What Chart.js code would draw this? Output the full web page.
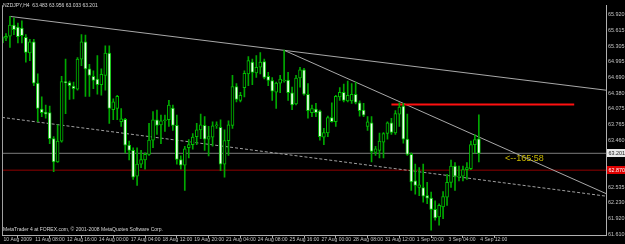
<!DOCTYPE html>
<html><head><meta charset="utf-8">
<script src="https://cdn.jsdelivr.net/npm/chart.js@4.4.0/dist/chart.umd.min.js"></script>
<style>html,body{margin:0;padding:0;background:#000;overflow:hidden}#wrap{width:625px;height:244px;position:relative}</style>
</head><body><div id="wrap"><canvas id="c" width="625" height="244"></canvas></div>
<script>
// NZDJPY H4 candles, 10 Aug 2009 00:00 .. 4 Sep 2009 12:00
const opens = [65.49,65.46,65.50,65.72,65.68,65.66,65.48,65.17,65.39,64.58,64.07,64.01,64.00,63.49,63.03,63.44,64.60,64.59,64.52,64.46,
65.05,65.39,64.86,64.71,64.66,64.55,64.73,65.17,64.06,64.08,63.82,63.87,63.36,63.26,62.75,62.99,63.07,63.18,63.46,63.86,
63.76,63.84,63.86,64.09,63.75,63.08,62.97,63.31,63.37,63.53,63.66,63.75,63.48,63.52,63.74,63.71,62.99,63.45,63.75,64.51,
64.24,64.49,64.76,64.99,64.78,64.89,65.00,64.71,64.63,64.40,64.58,64.62,64.64,64.39,64.17,64.68,64.84,64.36,64.00,64.07,
64.03,63.52,63.60,63.90,63.82,64.31,64.40,64.23,64.23,64.36,64.19,64.05,63.73,63.80,63.22,63.26,63.42,63.59,63.80,63.60,
63.97,64.13,63.48,63.18,62.66,62.53,62.53,62.37,62.32,62.10,61.95,62.15,62.34,62.63,62.95,62.73,62.75,62.88,62.90,63.37,63.483];
const highs = [65.55,65.55,65.89,65.86,65.76,65.80,65.53,65.44,65.44,64.76,64.31,64.15,64.13,63.53,63.76,64.71,65.05,64.62,64.60,65.08,
65.53,65.52,64.95,64.82,65.12,64.86,65.31,65.31,64.27,64.34,64.08,63.89,63.44,63.31,63.31,63.26,63.21,63.79,64.02,64.05,
63.95,63.95,64.24,64.15,63.95,63.15,63.34,63.47,63.59,63.79,63.97,63.92,63.73,63.82,63.82,63.86,63.66,63.84,64.73,64.57,
64.40,64.82,65.10,65.05,65.12,65.18,65.05,64.79,64.69,64.60,64.73,65.23,64.79,64.50,64.73,64.89,64.87,64.57,64.15,64.18,
64.05,63.69,63.93,64.19,64.34,64.49,64.56,64.62,64.57,64.60,64.23,64.18,63.92,63.92,63.34,63.60,63.61,63.82,63.89,64.04,
64.19,64.18,63.97,63.21,62.99,62.92,62.99,62.63,62.44,62.27,62.21,62.45,62.79,63.07,63.02,62.95,62.95,63.02,63.44,63.57,63.956];
const lows = [65.30,65.41,65.28,65.53,65.37,65.37,64.99,65.02,64.53,63.82,63.92,63.89,63.39,62.84,63.02,63.42,63.98,64.26,64.27,64.44,
64.92,64.32,64.32,64.47,64.36,64.34,64.44,63.79,63.86,63.86,63.73,63.21,63.07,62.69,62.57,62.92,62.89,63.16,63.31,63.57,
63.39,63.63,63.73,63.65,62.99,62.89,62.47,63.11,63.28,63.37,63.49,63.26,63.15,63.34,63.69,62.86,62.73,63.16,63.69,64.21,
64.21,64.31,64.53,64.55,64.69,64.76,64.66,64.53,64.24,64.08,64.39,64.60,64.24,64.06,64.15,64.50,64.34,63.89,63.92,63.92,
63.46,63.37,63.53,63.81,63.73,64.24,64.21,64.21,64.18,64.17,63.93,63.92,63.65,63.03,63.16,63.11,63.11,63.48,63.57,63.57,
63.73,63.40,63.16,62.47,62.40,62.37,62.24,62.21,61.69,61.89,61.79,61.92,62.18,62.53,62.47,62.66,62.66,62.69,62.88,63.21,63.033];
const closes = [65.37,65.50,65.72,65.63,65.49,65.51,65.18,65.39,64.58,64.08,64.00,63.97,63.49,63.03,63.44,64.61,64.59,64.53,64.47,65.05,
65.39,64.86,64.73,64.63,64.55,64.75,65.17,64.08,64.21,64.32,63.88,63.36,63.26,62.73,62.99,63.08,63.18,63.46,63.86,63.75,
63.84,63.86,64.15,63.75,63.08,62.97,63.29,63.37,63.52,63.66,63.76,63.48,63.53,63.74,63.75,62.99,63.45,63.76,64.51,64.26,
64.34,64.77,65.02,64.79,64.89,64.99,64.69,64.63,64.42,64.58,64.66,64.64,64.39,64.15,64.68,64.84,64.36,64.04,64.08,64.00,
63.53,63.61,63.90,63.82,64.32,64.40,64.24,64.34,64.36,64.20,64.04,63.95,63.82,63.24,63.29,63.44,63.59,63.80,63.61,63.98,
64.11,63.48,63.18,62.64,62.57,62.58,62.36,62.32,62.10,61.93,62.18,62.35,62.63,62.95,62.75,62.75,62.88,62.92,63.37,63.47,63.201];

// one x-axis label every 8 bars
const xTickLabels = ['10 Aug 2009','11 Aug 08:00','12 Aug 16:00','14 Aug 00:00','17 Aug 04:00','18 Aug 12:00','19 Aug 20:00',
'21 Aug 04:00','24 Aug 08:00','25 Aug 16:00','27 Aug 00:00','28 Aug 08:00','31 Aug 12:00','1 Sep 20:00','3 Sep 04:00','4 Sep 12:00'];
const yTickValues = [65.920,65.615,65.305,64.995,64.690,64.380,64.075,63.765,63.460,62.535,62.230,61.920,61.610];

const symbolName = 'NZDJPY,H4';
const bidPrice = 63.201;
const alertLevel = 62.870;
const resistanceLine = [{x:98,y:64.158},{x:144,y:64.158}];
const trendUpper = [{x:2,y:65.889},{x:152,y:64.44}];
const trendLower = [{x:71,y:65.223},{x:152,y:62.41}];
const trendDotted = [{x:0,y:63.906},{x:152,y:62.36}];
const timerText = '<--165:58';
const copyrightText = 'MetaTrader 4 at FOREX.com, \u00A9 2001-2008 MetaQuotes Software Corp.';

const barsTotal = 152;
const idx = opens.map((_, i) => i);
const bodies = idx.map(i => ({x: i, y: [opens[i], closes[i]]}));
const wicks = idx.map(i => ({x: i, y: [lows[i], highs[i]]}));
const bear = idx.map(i => closes[i] < opens[i]);

const FONT = 'Liberation Sans';
const axisColor = '#c4c4c4';

const mtPlugin = {
  id: 'mt',
  beforeDraw(chart) {
    const c = chart.ctx;
    c.save(); c.fillStyle = '#000'; c.fillRect(0, 0, chart.width, chart.height); c.restore();
  },
  afterDraw(chart) {
    const c = chart.ctx, a = chart.chartArea, ys = chart.scales.y;
    c.save();
    c.strokeStyle = '#a0a0a0'; c.lineWidth = 1;
    c.beginPath(); c.moveTo(a.left + 0.5, a.top); c.lineTo(a.left + 0.5, a.bottom); c.stroke();
    c.font = '5px "' + FONT + '"'; c.fillStyle = '#d8d8d8'; c.textBaseline = 'middle'; c.textAlign = 'left';
    const n = opens.length - 1;
    c.fillText(symbolName + '  ' + opens[n].toFixed(3) + ' ' + highs[n].toFixed(3) + ' ' + lows[n].toFixed(3) + ' ' + closes[n].toFixed(3), 3, 6);
    c.fillText(copyrightText, 3, 229.5);
    c.font = '9px "' + FONT + '"'; c.fillStyle = '#c8b800';
    c.fillText(timerText, 505, ys.getPixelForValue(bidPrice) + 5.5);
    const box = (val, bg, fg) => {
      const y = Math.round(ys.getPixelForValue(val));
      c.fillStyle = bg; c.fillRect(a.right + 1, y - 4, chart.width - a.right - 1, 8);
      c.font = '5.4px "' + FONT + '"'; c.fillStyle = fg; c.textAlign = 'left';
      c.fillText(val.toFixed(3), a.right + 2.5, y + 0.3);
    };
    box(bidPrice, '#e8e8e8', '#202020');
    box(alertLevel, '#e00000', '#ffffff');
    c.restore();
  }
};

new Chart(document.getElementById('c'), {
  type: 'bar',
  data: {
    datasets: [
      { type: 'bar', data: bodies, order: 0, grouped: false, barThickness: 3, minBarLength: 1,
        backgroundColor: bear.map(b => b ? '#f0fff0' : '#000000'), borderColor: '#00c000', borderWidth: 1, borderSkipped: false },
      { type: 'bar', data: wicks, order: 1, grouped: false, barThickness: 1,
        backgroundColor: '#00a800', borderWidth: 0 },
      { type: 'line', data: resistanceLine, order: 2, borderColor: '#ff1010', borderWidth: 2, pointRadius: 0 },
      { type: 'line', data: trendUpper, order: 3, borderColor: '#a8a8a8', borderWidth: 1, pointRadius: 0 },
      { type: 'line', data: trendLower, order: 3, borderColor: '#a8a8a8', borderWidth: 1, pointRadius: 0 },
      { type: 'line', data: trendDotted, order: 3, borderColor: '#a0a0a0', borderWidth: 1, borderDash: [3, 2], pointRadius: 0 },
      { type: 'line', data: [{x:0,y:bidPrice},{x:barsTotal,y:bidPrice}], order: 4, borderColor: '#7c7c7c', borderWidth: 1, pointRadius: 0 },
      { type: 'line', data: [{x:0,y:alertLevel},{x:barsTotal,y:alertLevel}], order: 4, borderColor: '#900000', borderWidth: 1, pointRadius: 0 }
    ]
  },
  options: {
    responsive: false, animation: false, devicePixelRatio: 1,
    layout: { padding: { left: 2, top: 2, right: 0, bottom: 0 } },
    plugins: { legend: { display: false }, tooltip: { enabled: false } },
    scales: {
      x: {
        type: 'linear', min: 0, max: barsTotal, offset: false,
        afterBuildTicks: s => { s.ticks = xTickLabels.map((_, k) => ({ value: k * 8 })); },
        afterFit: s => { s.height = 9; },
        grid: { display: true, drawOnChartArea: false, drawTicks: true, tickLength: 3, color: '#b0b0b0' },
        border: { display: true, color: '#b0b0b0' },
        ticks: { autoSkip: false, maxRotation: 0, minRotation: 0, align: 'start', padding: -1, labelOffset: 1.5,
          color: axisColor, font: { family: FONT, size: 5.0 },
          callback: v => xTickLabels[Math.round(v / 8)] }
      },
      y: {
        type: 'linear', position: 'right', min: 61.597, max: 66.108,
        afterBuildTicks: s => { s.ticks = yTickValues.map(v => ({ value: v })); },
        afterFit: s => { s.width = 19; },
        grid: { display: false, drawTicks: false },
        border: { display: true, color: '#b0b0b0' },
        ticks: { padding: 2, color: axisColor, font: { family: FONT, size: 5.4 },
          callback: v => Number(v).toFixed(3) }
      }
    }
  },
  plugins: [mtPlugin]
});
</script>
</body></html>
